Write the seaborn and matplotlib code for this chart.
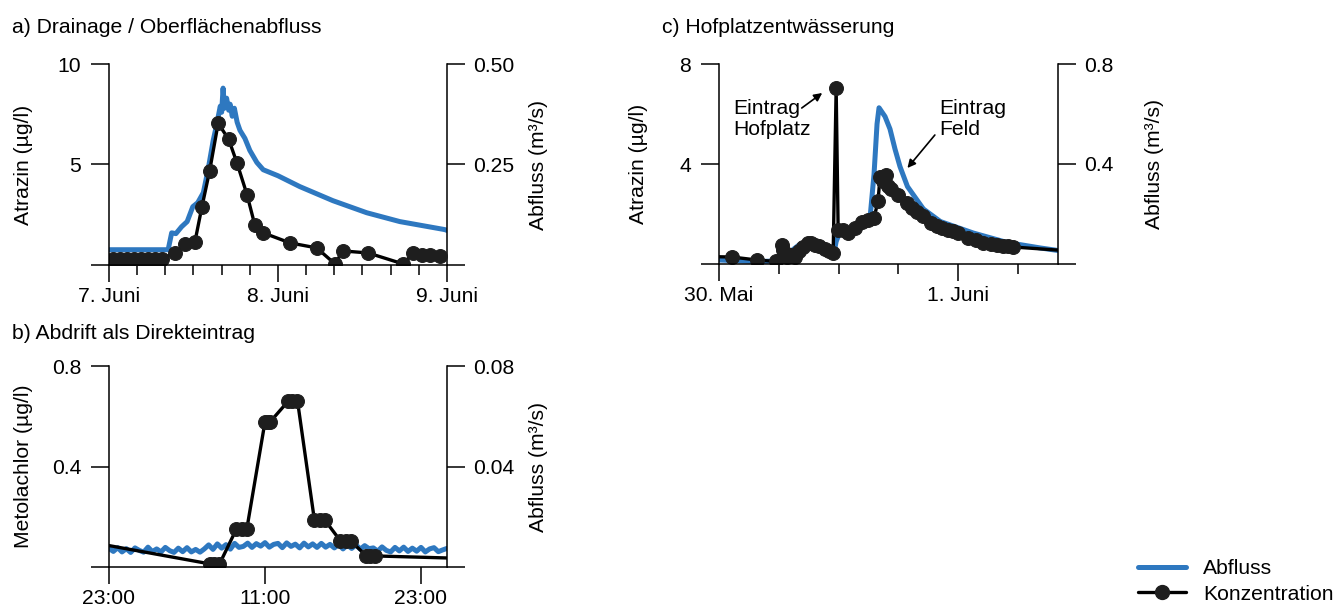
import numpy as np
import pandas as pd
import matplotlib
matplotlib.use("Agg")
import matplotlib.pyplot as plt
from matplotlib.ticker import MultipleLocator, NullLocator
from matplotlib.lines import Line2D
import seaborn as sns

# ---------------- data ----------------
# a) Drainage / Oberflächenabfluss  (hours after 7. Juni 00:00)
a_q_hours = [0, 8.4, 8.9, 9.5, 10.3, 11.1, 11.9, 12.6, 13.4, 14.1, 14.8, 15.3, 15.8, 16.0,
             16.2, 16.4, 16.7, 17.0, 17.2, 17.5, 17.8, 18.2, 18.6, 19.3, 20.0, 21.0, 21.9,
             24.0, 27.1, 31.8, 36.6, 41.3, 44.5, 47.7, 48.0]
a_q_m3s = [0.038, 0.038, 0.080, 0.078, 0.095, 0.108, 0.145, 0.155, 0.180, 0.240, 0.310,
           0.350, 0.395, 0.380, 0.440, 0.390, 0.415, 0.385, 0.400, 0.370, 0.390, 0.355,
           0.335, 0.315, 0.285, 0.255, 0.237, 0.222, 0.195, 0.160, 0.130, 0.108, 0.098,
           0.088, 0.086]
a_c_hours = [0.5, 1.5, 2.5, 3.5, 4.5, 5.5, 6.5, 7.5, 9.4, 10.8, 12.2, 13.2, 14.3, 15.5,
             17.0, 18.2, 19.6, 20.7, 21.9, 25.7, 29.5, 32.1, 33.2, 36.8, 41.8, 43.2, 44.5,
             45.6, 47.0]
a_c_ugl = [0.3, 0.3, 0.3, 0.3, 0.3, 0.3, 0.3, 0.32, 0.6, 1.05, 1.15, 2.9, 4.7, 7.05,
           6.25, 5.05, 3.5, 2.0, 1.6, 1.1, 0.85, 0.05, 0.7, 0.6, 0.05, 0.6, 0.5, 0.5, 0.45]
a_xticks = [0, 24, 48]
a_xticklabels = ["7. Juni", "8. Juni", "9. Juni"]

# b) Abdrift als Direkteintrag (hours after 23:00, discharge every 20 min)
b_q_start_h = 0.0
b_q_step_h = 1 / 3
b_q_m3s = [0.0074, 0.0062, 0.0077, 0.0060, 0.0073, 0.0058, 0.0076, 0.0066, 0.0059, 0.0079,
           0.0061, 0.0072, 0.0060, 0.0078, 0.0065, 0.0058, 0.0075, 0.0061, 0.0077, 0.0060,
           0.0070, 0.0059,
           0.0072, 0.0088, 0.0070, 0.0092, 0.0075, 0.0089, 0.0071, 0.0094, 0.0078,
           0.0082, 0.0095, 0.0078, 0.0093, 0.0083, 0.0097, 0.0079, 0.0090, 0.0094, 0.0077,
           0.0096, 0.0082, 0.0091, 0.0076, 0.0095, 0.0080, 0.0092, 0.0078, 0.0094, 0.0079,
           0.0090,
           0.0076, 0.0089, 0.0072, 0.0087, 0.0074, 0.0088, 0.0071, 0.0085, 0.0073,
           0.0076, 0.0063, 0.0080, 0.0066, 0.0060, 0.0078, 0.0064, 0.0079, 0.0062, 0.0075,
           0.0063, 0.0078, 0.0060, 0.0072, 0.0077, 0.0061, 0.0068, 0.0074]
b_c_hours = [-2.0, 7.8, 8.1, 8.5, 9.8, 10.2, 10.6, 12.0, 12.2, 12.4, 13.8, 14.1, 14.5,
             15.8, 16.2, 16.6, 17.8, 18.2, 18.6, 19.8, 20.1, 20.5, 28.0]
b_c_ugl = [0.104, 0.012, 0.012, 0.012, 0.151, 0.151, 0.151, 0.578, 0.578, 0.578,
           0.661, 0.661, 0.661, 0.187, 0.187, 0.187, 0.104, 0.104, 0.104, 0.044, 0.044,
           0.044, 0.033]
b_xticks = [0, 12, 24]
b_xticklabels = ["23:00", "11:00", "23:00"]

# c) Hofplatzentwässerung (hours after 30. Mai 00:00)
c_q_hours = [0, 7.6, 11.8, 13.7, 16.3, 18.3, 20.3, 22.9, 23.5, 24.3, 26.3, 28.3, 30.3,
             31.1, 31.7, 32.1, 33.3, 34.3, 35.3, 36.3, 37.8, 41.0, 44.4, 51.0, 57.8, 64.5,
             68.0]
c_q_m3s = [0.016, 0.010, 0.012, 0.040, 0.080, 0.078, 0.050, 0.028, 0.090, 0.130, 0.135,
           0.160, 0.185, 0.360, 0.560, 0.625, 0.590, 0.540, 0.460, 0.390, 0.310, 0.220,
           0.170, 0.124, 0.086, 0.064, 0.054]
c_c_hours = [-3.0, 2.6, 7.6, 11.5, 12.6, 12.9, 13.6, 14.5, 15.3, 16.0, 16.9, 17.9, 18.5,
             19.3, 20.0, 21.3, 22.0, 22.9, 23.5, 23.9, 24.9, 25.9, 27.3, 28.7, 29.9, 31.1,
             31.9, 32.3, 32.9, 33.4, 33.8, 34.5, 36.0, 37.8, 38.8, 39.8, 41.0, 42.5, 43.8,
             44.8, 46.0, 47.0, 48.0, 50.0, 51.5, 53.0, 54.5, 55.8, 57.0, 58.0, 59.0, 72.0]
c_c_ugl = [0.30, 0.28, 0.16, 0.10, 0.76, 0.56, 0.28, 0.35, 0.28, 0.50, 0.68, 0.84, 0.85,
           0.76, 0.70, 0.60, 0.50, 0.44, 7.04, 1.36, 1.36, 1.24, 1.44, 1.68, 1.76, 1.84,
           2.52, 3.48, 3.30, 3.56, 3.10, 3.00, 2.76, 2.44, 2.25, 2.08, 1.90, 1.65, 1.52,
           1.45, 1.36, 1.30, 1.24, 1.04, 0.95, 0.84, 0.80, 0.76, 0.72, 0.70, 0.68, 0.50]
c_xticks = [0, 48]
c_xticklabels = ["30. Mai", "1. Juni"]

titles = ["a) Drainage / Oberflächenabfluss", "b) Abdrift als Direkteintrag",
          "c) Hofplatzentwässerung"]
legend_labels = ["Abfluss", "Konzentration"]

# ---------------- style ----------------
sns.set_theme(style="ticks")
plt.rcParams["font.family"] = ["Liberation Sans", "DejaVu Sans"]
plt.rcParams["font.size"] = 15
plt.rcParams["text.color"] = "black"
plt.rcParams["axes.labelcolor"] = "black"
plt.rcParams["axes.linewidth"] = 1.1
plt.rcParams["xtick.major.width"] = 1.1
plt.rcParams["ytick.major.width"] = 1.1
plt.rcParams["xtick.minor.width"] = 1.1
plt.rcParams["xtick.color"] = "black"
plt.rcParams["ytick.color"] = "black"
plt.rcParams["xtick.labelcolor"] = "black"
plt.rcParams["ytick.labelcolor"] = "black"
plt.rcParams["axes.edgecolor"] = "black"

BLUE = "#2e78c0"
DARK = "#1e1e1e"
FS = 15.2
LW_C = 2.4

W, H = 1340, 610
fig = plt.figure(figsize=(W / 100, H / 100), dpi=100)


def px_rect(x0, x1, ytop, ybot):
    return [x0 / W, 1 - ybot / H, (x1 - x0) / W, (ybot - ytop) / H]


def panel(rect, q_h, q_v, c_h, c_v, xlim, clim, qlim, cticks, cticklabels, qticks,
          qticklabels, xticks, xticklabels, minor_step, ylabel, lab_left, lab_right):
    ax = fig.add_axes(rect)
    ax2 = ax.twinx()
    qdf = pd.DataFrame({"t": q_h, "q": q_v})
    cdf = pd.DataFrame({"t": c_h, "c": c_v})
    sns.lineplot(data=qdf, x="t", y="q", ax=ax2, color=BLUE, lw=3.6,
                 estimator=None, sort=False)
    sns.lineplot(data=cdf, x="t", y="c", ax=ax, color="black", lw=LW_C, marker="o",
                 markersize=10, markerfacecolor=DARK, markeredgecolor=DARK,
                 estimator=None, sort=False)
    ax.set_zorder(ax2.get_zorder() + 1)
    ax.patch.set_visible(False)

    ax.set_xlim(*xlim)
    ax.set_ylim(*clim)
    ax2.set_ylim(*qlim)

    ax.set_xticks(xticks)
    ax.set_xticklabels(xticklabels)
    if minor_step:
        ax.xaxis.set_minor_locator(MultipleLocator(minor_step))
    else:
        ax.xaxis.set_minor_locator(NullLocator())
    ax.set_yticks(cticks)
    ax.set_yticklabels(cticklabels)
    ax2.set_yticks(qticks)
    ax2.set_yticklabels(qticklabels)

    for s in ["top", "right"]:
        ax.spines[s].set_visible(False)
    for s in ["top", "left", "bottom"]:
        ax2.spines[s].set_visible(False)

    ax.tick_params(axis="x", which="major", direction="out", length=12.5, pad=3,
                   labelsize=FS)
    ax.tick_params(axis="x", which="minor", direction="out", length=7)
    ax.tick_params(axis="y", direction="out", length=13, pad=7, labelsize=FS)
    ax2.tick_params(axis="y", direction="out", length=13, pad=6, labelsize=FS)

    ax.set_xlabel("")
    ax.set_ylabel(ylabel, fontsize=FS)
    ax.yaxis.set_label_coords(lab_left, 0.5)
    ax2.set_ylabel("Abfluss (m³/s)", fontsize=FS)
    ax2.yaxis.set_label_coords(lab_right, 0.5)
    return ax, ax2


ax_a, _ = panel(px_rect(109, 447, 64, 265), a_q_hours, a_q_m3s, a_c_hours, a_c_ugl,
                (0, 48), (0, 10), (0, 0.5), [0, 5, 10], ["", "5", "10"],
                [0, 0.25, 0.5], ["", "0.25", "0.50"], a_xticks, a_xticklabels, 4,
                "Atrazin (µg/l)", -0.225, 1.243)

b_q_hours = [b_q_start_h + i * b_q_step_h for i in range(len(b_q_m3s))]
ax_b, _ = panel(px_rect(109, 447, 366, 567), b_q_hours, b_q_m3s, b_c_hours, b_c_ugl,
                (0, 26), (0, 0.8), (0, 0.08), [0, 0.4, 0.8], ["", "0.4", "0.8"],
                [0, 0.04, 0.08], ["", "0.04", "0.08"], b_xticks, b_xticklabels, None,
                "Metolachlor (µg/l)", -0.225, 1.243)

ax_c, _ = panel(px_rect(719, 1058, 64, 264), c_q_hours, c_q_m3s, c_c_hours, c_c_ugl,
                (0, 68), (0, 8), (0, 0.8), [0, 4, 8], ["", "4", "8"],
                [0, 0.4, 0.8], ["", "0.4", "0.8"], c_xticks, c_xticklabels, 12,
                "Atrazin (µg/l)", -0.209, 1.257)

# annotations panel c
ax_c.text(2.8, 5.8, "Eintrag\nHofplatz", fontsize=FS, ha="left", va="center",
          linespacing=1.15)
ax_c.annotate("", xy=(20.7, 6.84), xytext=(16.6, 6.24),
              arrowprops=dict(arrowstyle="-|>", color="black", lw=1.2,
                              mutation_scale=12, shrinkA=0, shrinkB=0))
ax_c.text(44.2, 5.8, "Eintrag\nFeld", fontsize=FS, ha="left", va="center",
          linespacing=1.15)
ax_c.annotate("", xy=(37.8, 3.84), xytext=(43.3, 5.16),
              arrowprops=dict(arrowstyle="-|>", color="black", lw=1.2,
                              mutation_scale=12, shrinkA=0, shrinkB=0))

# titles
fig.text(12 / W, 1 - 33 / H, titles[0], fontsize=FS, ha="left", va="baseline")
fig.text(12 / W, 1 - 339 / H, titles[1], fontsize=FS, ha="left", va="baseline")
fig.text(662 / W, 1 - 33 / H, titles[2], fontsize=FS, ha="left", va="baseline")

# legend
handles = [Line2D([], [], color=BLUE, lw=3.6),
           Line2D([], [], color="black", lw=LW_C, marker="o", markersize=10,
                  markerfacecolor=DARK, markeredgecolor=DARK)]
fig.legend(handles, legend_labels, loc="lower right", bbox_to_anchor=(1.0, 0.0),
           frameon=False, fontsize=FS, handlelength=2.3, handletextpad=0.8,
           labelspacing=0.3, borderpad=0.2, borderaxespad=0.1)

fig.savefig("out.png", dpi=100)
